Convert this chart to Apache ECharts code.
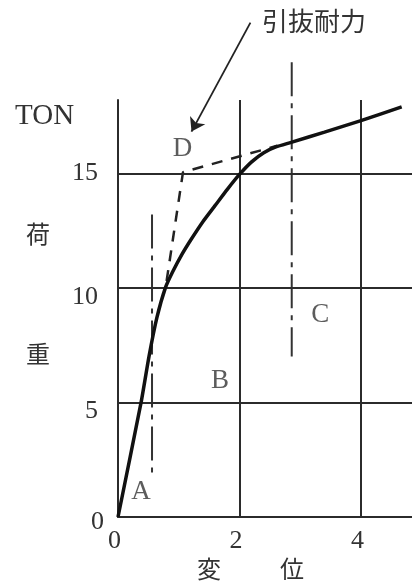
<!DOCTYPE html>
<html>
<head>
<meta charset="utf-8">
<script src="https://cdn.jsdelivr.net/npm/echarts@6/dist/echarts.min.js"></script>
<style>
html, body { margin: 0; padding: 0; background: #fff; }
#chart { width: 412px; height: 583px; }
</style>
</head>
<body>
<div id="chart"></div>
<script>
// 荷重 (TON) - 変位 curve
var loadCurve = [[0, 0], [0.38, 5], [0.51, 7], [0.64, 8.7], [0.78, 10], [0.9, 10.7], [1.05, 11.45],
    [1.2, 12.1], [1.4, 12.9], [1.6, 13.6], [1.8, 14.3], [2.0, 14.95], [2.2, 15.5], [2.4, 15.9],
    [2.6, 16.15], [2.85, 16.35], [3.4, 16.8], [4.0, 17.3], [4.67, 17.9]];
var pulloutLine = [[0.8, 10.3], [1.07, 15.05], [2.62, 16.2]];
var guideA = [[0.56, 13.2], [0.56, 1.75]];
var guideC = [[2.86, 19.85], [2.86, 7.0]];
var arrowLine = [[2.18, 21.58], [1.21, 16.82]];
var pointLabels = [['A', 0.38, 1.1], ['B', 1.68, 5.95], ['C', 3.33, 8.8], ['D', 1.06, 16.05]];
var xTicks = [0, 2, 4];
var yTicks = [0, 5, 10, 15];

var serif = '"Liberation Serif", "DejaVu Serif", serif';
var cjk = '"Noto Sans CJK JP", sans-serif';
var ink = '#2b2b2b';

var myChart = echarts.init(document.getElementById('chart'));

// per-label nudges to sit like the scan
var yRich = {
    y0: { padding: [10, 0, 0, 0] },
    y5: { padding: [18, 6, 0, 0] },
    y10: { padding: [18, 6, 0, 0] },
    y15: { padding: [0, 6, 0, 0] }
};

var option = {
    backgroundColor: '#fff',
    animation: false,
    grid: { left: 118, top: 100, right: 0, bottom: 66 },
    xAxis: {
        type: 'value', min: 0, max: 4.84, interval: 2,
        axisLine: { show: true, lineStyle: { color: ink, width: 2 } },
        axisTick: { show: false },
        splitLine: { show: true, showMaxLine: false, lineStyle: { color: ink, width: 2 } },
        axisLabel: {
            margin: 11, showMaxLabel: false,
            fontFamily: serif, fontSize: 26, color: '#333', padding: [0, 7, 0, 0],
            formatter: function (v) { return xTicks.indexOf(v) >= 0 ? String(v) : ''; }
        }
    },
    yAxis: {
        type: 'value', min: 0, max: 18.2, interval: 5,
        axisLine: { show: true, lineStyle: { color: ink, width: 2 } },
        axisTick: { show: false },
        splitLine: { show: false },
        axisLabel: {
            margin: 14, showMaxLabel: false,
            fontFamily: serif, fontSize: 26, color: '#333',
            formatter: function (v) {
                return yTicks.indexOf(v) >= 0 ? '{y' + v + '|' + v + '}' : '';
            },
            rich: yRich
        }
    },
    graphic: [
        { type: 'text', left: 262, top: 8, style: { text: '引抜耐力', font: '26px ' + cjk, fill: '#333' } },
        { type: 'text', left: 15, top: 102, style: { text: 'TON', font: '29px ' + serif, fill: '#333' } },
        { type: 'text', left: 26, top: 222, style: { text: '荷', font: '24px ' + cjk, fill: '#333' } },
        { type: 'text', left: 26, top: 342, style: { text: '重', font: '24px ' + cjk, fill: '#333' } },
        { type: 'text', left: 197, top: 557, style: { text: '変', font: '24px ' + cjk, fill: '#333' } },
        { type: 'text', left: 280, top: 557, style: { text: '位', font: '24px ' + cjk, fill: '#333' } }
    ],
    series: [
        {
            type: 'line', data: loadCurve, symbol: 'none', smooth: 0.2, z: 5,
            lineStyle: { color: '#111', width: 3.5 },
            markLine: {
                silent: true, symbol: 'none', label: { show: false },
                lineStyle: { color: ink, width: 2, type: 'solid' },
                data: [{ yAxis: 5 }, { yAxis: 10 }, { yAxis: 15 }]
            }
        },
        {
            type: 'line', data: pulloutLine, symbol: 'none', z: 4,
            lineStyle: { color: '#222', width: 2.5, type: [11, 9] }
        },
        {
            type: 'line', data: guideA, symbol: 'none', z: 3,
            lineStyle: { color: '#333', width: 2, type: [34, 7, 5, 7] }
        },
        {
            type: 'line', data: guideC, symbol: 'none', z: 3, clip: false,
            lineStyle: { color: '#333', width: 2, type: [34, 7, 5, 7] }
        },
        {
            type: 'lines', coordinateSystem: 'cartesian2d', clip: false, z: 6,
            symbol: ['none', 'arrow'], symbolSize: 13,
            lineStyle: { color: '#222', width: 1.8, opacity: 1 },
            data: [{ coords: arrowLine }]
        },
        {
            type: 'scatter', symbolSize: 0, z: 6,
            data: pointLabels.map(function (p) { return { name: p[0], value: [p[1], p[2]] }; }),
            label: {
                show: true, position: 'inside', formatter: '{b}',
                fontFamily: serif, fontSize: 27, color: '#333'
            }
        }
    ]
};

myChart.setOption(option);
window.onresize = function () {
    myChart.resize();
};
</script>
</body>
</html>
